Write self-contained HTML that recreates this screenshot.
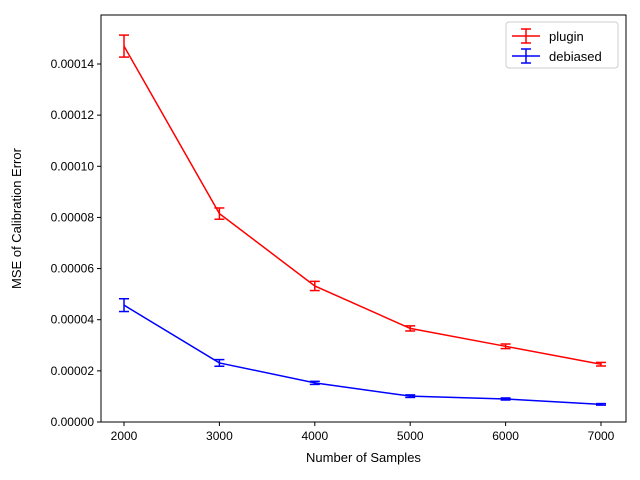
<!DOCTYPE html>
<html><head><meta charset="utf-8">
<style>
body{margin:0;background:#fff;}
svg{display:block;font-family:"Liberation Sans","DejaVu Sans",sans-serif;}
</style></head>
<body>
<svg id="chart" width="640" height="480" viewBox="0 0 640 480">
<rect x="0" y="0" width="640" height="480" fill="#fff"/>
<g id="marks"></g>
<g id="axes"></g>
</svg>
<script>
const xValues = [2000, 3000, 4000, 5000, 6000, 7000];
const pluginValues = [0.0001470, 0.0000815, 0.0000532, 0.0000366, 0.0000296, 0.0000226];
const pluginErrors = [0.0000043, 0.0000022, 0.0000018, 0.0000010, 0.0000009, 0.0000007];
const debiasedValues = [0.0000457, 0.0000231, 0.0000153, 0.0000101, 0.0000090, 0.0000069];
const debiasedErrors = [0.0000025, 0.0000013, 0.0000006, 0.0000005, 0.0000004, 0.0000003];
const yTicks = [0, 0.00002, 0.00004, 0.00006, 0.00008, 0.0001, 0.00012, 0.00014];
const yTickLabels = ["0.00000","0.00002","0.00004","0.00006","0.00008","0.00010","0.00012","0.00014"];
const xTicks = [2000, 3000, 4000, 5000, 6000, 7000];
const xTickLabels = ["2000","3000","4000","5000","6000","7000"];

const L=101, R=626, T=15, B=422;
function xs(v){ return 124 + (v-2000)*(601-124)/5000; }
function ys(v){ return 422 - v*(422-64)/0.00014; }
const NS="http://www.w3.org/2000/svg";
function mk(tag, attrs, parent){
  const e=document.createElementNS(NS,tag);
  for(const k in attrs) e.setAttribute(k, attrs[k]);
  parent.appendChild(e); return e;
}
const marks=document.getElementById('marks');
const axes=document.getElementById('axes');

function series(vals, errs, color, name){
  const g=mk('g',{},marks);
  
  
  const pts=vals.map((v,i)=>xs(xValues[i])+','+ys(v)).join(' ');
  const pl=mk('polyline',{points:pts,fill:'none',stroke:color,'stroke-width':1.5},g);
  
  
  vals.forEach((v,i)=>{
    const x=xs(xValues[i]), y1=ys(v+errs[i]), y2=ys(v-errs[i]);
    const eg=mk('g',{stroke:color,'stroke-width':1.5},g);
    
    
    mk('line',{x1:x,x2:x,y1:y1,y2:y2},eg);
    mk('line',{x1:x-5,x2:x+5,y1:y1,y2:y1},eg);
    mk('line',{x1:x-5,x2:x+5,y1:y2,y2:y2},eg);
  });
}
series(pluginValues, pluginErrors, '#ff0000', 'plugin');
series(debiasedValues, debiasedErrors, '#0000ff', 'debiased');

const frame=mk('rect',{x:L,y:T,width:R-L,height:B-T,fill:'none',stroke:'#000','stroke-width':1},axes);



yTicks.forEach((v,i)=>{
  const y=ys(v);
  mk('line',{x1:L-4,x2:L,y1:y,y2:y,stroke:'#000'},axes);
  const t=mk('text',{x:L-7,y:y+4,'text-anchor':'end','font-size':12,fill:'#000'},axes);
  t.textContent=yTickLabels[i];
  
  
});
xTicks.forEach((v,i)=>{
  const x=xs(v);
  mk('line',{x1:x,x2:x,y1:B,y2:B+4,stroke:'#000'},axes);
  const t=mk('text',{x:x,y:B+18,'text-anchor':'middle','font-size':12,fill:'#000'},axes);
  t.textContent=xTickLabels[i];
  
  
});
const xt=mk('text',{x:(L+R)/2,y:462,'text-anchor':'middle','font-size':13,fill:'#000'},axes);
xt.textContent='Number of Samples';


const yt=mk('text',{x:0,y:0,'text-anchor':'middle','font-size':13,fill:'#000',transform:'translate(21,'+((T+B)/2)+') rotate(-90)'},axes);
yt.textContent='MSE of Calibration Error';



const lg=mk('g',{},axes);


mk('rect',{x:506,y:22,width:112,height:46,rx:3,fill:'#fff','fill-opacity':0.8,stroke:'#ccc'},lg);
[['plugin','#ff0000',36],['debiased','#0000ff',56]].forEach(([n,c,y])=>{
  const e=mk('g',{stroke:c,'stroke-width':1.5},lg);
  
  
  mk('line',{x1:512,x2:540,y1:y,y2:y},e);
  mk('line',{x1:526,x2:526,y1:y-7,y2:y+7},e);
  mk('line',{x1:521,x2:531,y1:y-7,y2:y-7},e);
  mk('line',{x1:521,x2:531,y1:y+7,y2:y+7},e);
  const t=mk('text',{x:549,y:y+5,'font-size':13,fill:'#000',stroke:'none'},lg);
  t.textContent=n;
  
  
});
</script>
</body></html>
